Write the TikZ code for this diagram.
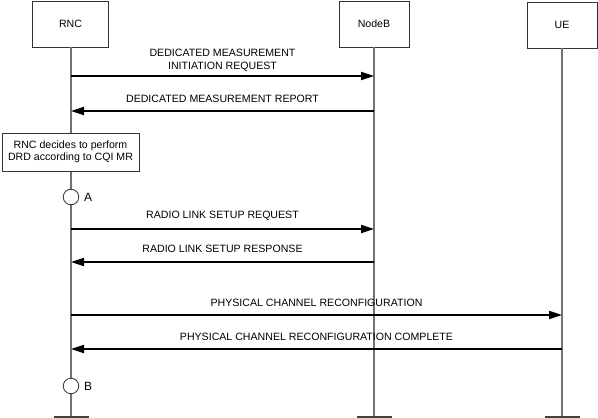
\documentclass[tikz,border=0pt]{standalone}
\usepackage{fontspec}
\setmainfont{Liberation Sans}
\usetikzlibrary{arrows.meta}
\begin{document}
\begin{tikzpicture}[x=1pt,y=-1pt,
  font=\fontsize{10.6}{12.5}\selectfont,
  entity/.style={draw=black!80,line width=0.8pt,minimum height=46pt,inner sep=0pt,fill=white},
  life/.style={draw=black!55,line width=1.4pt},
  endbar/.style={draw=black!75,line width=2pt},
  msg/.style={draw=black,line width=1.8pt,-{Triangle[length=13pt,width=8pt]}},
  lbl/.style={align=center,inner sep=0pt},
  state/.style={circle,draw=black!80,line width=0.8pt,fill=white,minimum size=15.5pt,inner sep=0pt},
  statelbl/.style={anchor=west,inner sep=0pt,font=\fontsize{12}{14}\selectfont},
  notebox/.style={draw=black!80,line width=0.8pt,fill=white,align=center,minimum width=137pt,minimum height=38pt,inner sep=0pt}]
\useasboundingbox (0,0) rectangle (598,418);
% entities
\node[entity,minimum width=76pt] (rnc) at (70.5,24) {RNC};
\node[entity,minimum width=70pt] (nodeb) at (374,24) {NodeB};
\node[entity,minimum width=70pt] (ue) at (562,25) {UE};
% lifeline ends
\coordinate (rend) at (71,417);
\coordinate (bend) at (374,417);
\coordinate (uend) at (562,417);
\draw[life] (rnc.south -| rend) -- (rend);
\draw[life] (nodeb.south -| bend) -- (bend);
\draw[life] (ue.south -| uend) -- (uend);
\draw[endbar] ([xshift=-17.5pt]rend) -- ([xshift=17.5pt]rend);
\draw[endbar] ([xshift=-17.5pt]bend) -- ([xshift=17.5pt]bend);
\draw[endbar] ([xshift=-17.5pt]uend) -- ([xshift=17.5pt]uend);
% note and states
\node[notebox] (note) at (70.5,152) {RNC decides to perform\\DRD according to CQI MR};
\node[state] (sa) at (71,197) {};
\node[statelbl] (la) at (84,197) {A};
\node[state] (sb) at (71,386) {};
\node[statelbl] (lb) at (84,386) {B};
% message points
\coordinate (r1) at (71,76);  \coordinate (b1) at (374,76);
\coordinate (r2) at (71,111); \coordinate (b2) at (374,111);
\coordinate (r3) at (71,229); \coordinate (b3) at (374,229);
\coordinate (r4) at (71,262); \coordinate (b4) at (374,262);
\coordinate (r5) at (71,315); \coordinate (u5) at (562,315);
\coordinate (r6) at (71,349); \coordinate (u6) at (562,349);
% messages
\draw[msg] (r1) -- (b1);
\draw[msg] (b2) -- (r2);
\draw[msg] (r3) -- (b3);
\draw[msg] (b4) -- (r4);
\draw[msg] (r5) -- (u5);
\draw[msg] (u6) -- (r6);
% labels
\node[lbl] (m1) at (222.5,60.5) {DEDICATED MEASUREMENT\\INITIATION REQUEST};
\node[lbl] (m2) at (222.5,99) {DEDICATED MEASUREMENT REPORT};
\node[lbl] (m3) at (222.5,216) {RADIO LINK SETUP REQUEST};
\node[lbl] (m4) at (222.5,249) {RADIO LINK SETUP RESPONSE};
\node[lbl] (m5) at (316.5,302.5) {PHYSICAL CHANNEL RECONFIGURATION};
\node[lbl] (m6) at (316.5,337) {PHYSICAL CHANNEL RECONFIGURATION COMPLETE};
\end{tikzpicture}
\end{document}
